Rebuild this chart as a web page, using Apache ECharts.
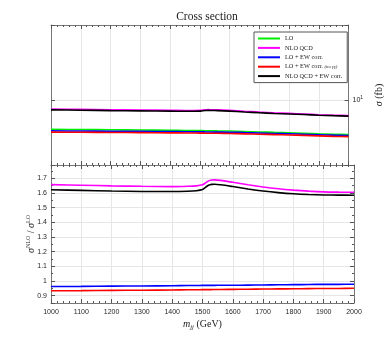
<!DOCTYPE html>
<html><head><meta charset="utf-8">
<script src="https://cdn.jsdelivr.net/npm/echarts@6/dist/echarts.min.js"></script>
<style>html,body{margin:0;padding:0;background:#fff}#c{width:392px;height:343px}</style>
</head><body><div id="c"></div><script>
// m_jj (GeV)
const mjj = [1000,1100,1200,1300,1400,1450,1480,1500,1510,1520,1530,1540,1560,1600,1650,1700,1750,1800,1850,1900,1950,2000];
// Top panel: cross sections (fb)
const xsLO      = [4.86,4.83,4.80,4.77,4.74,4.72,4.71,4.70,4.70,4.69,4.69,4.68,4.67,4.65,4.60,4.55,4.50,4.46,4.41,4.35,4.30,4.26];
const xsNLO     = [8.05,7.98,7.91,7.85,7.79,7.76,7.76,7.78,7.84,7.89,7.92,7.90,7.87,7.77,7.61,7.46,7.33,7.22,7.11,6.99,6.90,6.83];
const xsLOEW    = [4.68,4.65,4.63,4.61,4.59,4.57,4.56,4.56,4.56,4.55,4.55,4.54,4.53,4.52,4.47,4.43,4.38,4.35,4.30,4.25,4.20,4.17];
const xsLOEWnoA = [4.53,4.51,4.49,4.47,4.45,4.44,4.43,4.42,4.42,4.41,4.41,4.41,4.40,4.38,4.34,4.30,4.26,4.22,4.18,4.13,4.08,4.05];
const xsNLOEW   = [7.88,7.81,7.74,7.68,7.63,7.60,7.61,7.63,7.70,7.75,7.78,7.76,7.73,7.64,7.48,7.34,7.21,7.11,7.01,6.90,6.82,6.75];
// Bottom panel: ratios to LO
const rNLO      = [1.656,1.652,1.648,1.645,1.643,1.645,1.648,1.655,1.668,1.682,1.688,1.689,1.685,1.672,1.655,1.640,1.628,1.619,1.612,1.607,1.605,1.604];
const rNLOEW    = [1.621,1.617,1.613,1.610,1.609,1.611,1.615,1.623,1.638,1.652,1.658,1.659,1.655,1.643,1.627,1.613,1.602,1.594,1.589,1.586,1.585,1.584];
const rLOEW     = [0.962,0.963,0.965,0.966,0.968,0.969,0.969,0.970,0.970,0.970,0.970,0.970,0.971,0.971,0.972,0.973,0.974,0.975,0.976,0.977,0.977,0.978];
const rLOEWnoA  = [0.933,0.934,0.936,0.937,0.939,0.940,0.940,0.941,0.941,0.941,0.941,0.942,0.942,0.943,0.944,0.945,0.946,0.947,0.948,0.949,0.949,0.950];
const names = ['LO','NLO QCD','LO + EW corr.','LO + EW corr. (no γγ)','NLO QCD + EW corr.'];
const colors = ['#00ee00','#ff00ff','#0000ff','#ff0000','#000000'];

const pair = arr => mjj.map((m,i)=>[m,arr[i]]);
const AX = '#777';
const SANS = 'Liberation Sans';
const SERIF = 'Liberation Serif';

function xAx(grid, pos, labels, split) {
  return {
    type:'value', gridIndex:grid, position:pos, min:1000, max:2000, interval:100,
    axisLine:{show:true, onZero:false, lineStyle:{color:AX,width:1}},
    axisTick:{show:true, inside:true, length:4, lineStyle:{color:'#555'}},
    minorTick:{show:true, splitNumber:5, length:2, lineStyle:{color:'#555'}},
    axisLabel:{show:labels, fontFamily:SANS, fontSize:7, color:'#262626', margin:6,
      formatter: v => String(v)},
    splitLine:{show:split, lineStyle:{color:'#e6e6e6',width:1}}
  };
}

const option = {
  animation:false,
  backgroundColor:'#fff',
  title:{text:'Cross section', left:202, top:6, textAlign:'center',
    textStyle:{fontFamily:SERIF, fontWeight:'normal', fontSize:11.5, color:'#222'}},
  legend:{
    data:names, orient:'vertical', left:254, top:32, icon:'rect',
    itemWidth:22, itemHeight:2, itemGap:2.4,
    padding:[3,5,3,4], backgroundColor:'#fff', borderColor:'#555', borderWidth:1,
    textStyle:{fontFamily:SERIF, fontSize:6.3, color:'#222', lineHeight:7,
      rich:{s:{fontFamily:SERIF, fontSize:4.8, fontStyle:'italic', color:'#222'}}},
    formatter: n => n === 'LO + EW corr. (no γγ)' ? 'LO + EW corr. {s|(no γγ)}' : n
  },
  grid:[
    {left:51, top:25, width:303, height:140},
    {left:51, top:165, width:303, height:138}
  ],
  xAxis:[
    xAx(0,'bottom',false,true),
    xAx(0,'top',false,false),
    Object.assign(xAx(1,'bottom',true,true), {
      name:'{m|m}{sub|jj} {t|(GeV)}', nameLocation:'middle', nameGap:14,
      nameTextStyle:{fontFamily:SERIF, fontSize:10, color:'#222', lineHeight:14,
        rich:{m:{fontFamily:SERIF, fontStyle:'italic', fontSize:10, lineHeight:14},
              sub:{fontFamily:SERIF, fontStyle:'italic', fontSize:6.5, verticalAlign:'bottom', lineHeight:10},
              t:{fontFamily:SERIF, fontSize:10, lineHeight:14}}}
    }),
    xAx(1,'top',false,false)
  ],
  yAxis:[
    {type:'log', logBase:10, gridIndex:0, position:'left', min:2, max:65,
      axisLine:{show:true, lineStyle:{color:AX}},
      axisTick:{show:true, inside:true, length:4, lineStyle:{color:'#555'}},
      axisLabel:{show:false},
      splitLine:{show:true, lineStyle:{color:'#e6e6e6'}}},
    {type:'log', logBase:10, gridIndex:0, position:'right', min:2, max:65,
      axisLine:{show:true, lineStyle:{color:AX}},
      axisTick:{show:true, inside:true, length:4, lineStyle:{color:'#555'}},
      axisLabel:{show:true, margin:4, fontFamily:SANS, fontSize:7, color:'#262626',
        formatter: v => Math.abs(v-10) < 1e-6 ? '10{p|1}' : '',
        rich:{p:{fontFamily:SANS, fontSize:5, verticalAlign:'top', lineHeight:10}}},
      splitLine:{show:false},
      name:'{s|σ} (fb)', nameLocation:'middle', nameGap:18, nameRotate:90,
      nameTextStyle:{fontFamily:SERIF, fontSize:10, color:'#222',
        rich:{s:{fontFamily:SERIF, fontStyle:'italic', fontSize:10}}}},
    {type:'value', gridIndex:1, position:'left', min:0.85, max:1.79,
      splitNumber:9,
      axisLine:{show:true, lineStyle:{color:AX}},
      axisTick:{show:true, inside:true, length:4, lineStyle:{color:'#555'}},
      minorTick:{show:true, splitNumber:2, length:2, lineStyle:{color:'#555'}},
      axisLabel:{show:true, showMinLabel:false, showMaxLabel:false, margin:4,
        fontFamily:SANS, fontSize:7, color:'#262626'},
      splitLine:{show:true, lineStyle:{color:'#e6e6e6'}},
      name:'{s|σ}{p|NLO} / {s|σ}{p|LO}', nameLocation:'middle', nameGap:14, nameRotate:90,
      nameMoveOverlap:false,
      nameTextStyle:{fontFamily:SERIF, fontSize:10, color:'#222', lineHeight:12,
        rich:{s:{fontFamily:SERIF, fontStyle:'italic', fontSize:10, lineHeight:12},
              p:{fontFamily:SERIF, fontSize:6, verticalAlign:'top', lineHeight:8}}}},
    {type:'value', gridIndex:1, position:'right', min:0.85, max:1.79,
      splitNumber:9,
      axisLine:{show:true, lineStyle:{color:AX}},
      axisTick:{show:true, inside:true, length:4, lineStyle:{color:'#555'}},
      minorTick:{show:true, splitNumber:2, length:2, lineStyle:{color:'#555'}},
      axisLabel:{show:false}, splitLine:{show:false}}
  ],
  series:[
    {name:names[0], type:'line', xAxisIndex:0, yAxisIndex:0, data:pair(xsLO)},
    {name:names[1], type:'line', xAxisIndex:0, yAxisIndex:0, data:pair(xsNLO)},
    {name:names[2], type:'line', xAxisIndex:0, yAxisIndex:0, data:pair(xsLOEW)},
    {name:names[3], type:'line', xAxisIndex:0, yAxisIndex:0, data:pair(xsLOEWnoA)},
    {name:names[4], type:'line', xAxisIndex:0, yAxisIndex:0, data:pair(xsNLOEW)},
    {name:names[1], type:'line', xAxisIndex:2, yAxisIndex:2, data:pair(rNLO)},
    {name:names[2], type:'line', xAxisIndex:2, yAxisIndex:2, data:pair(rLOEW)},
    {name:names[3], type:'line', xAxisIndex:2, yAxisIndex:2, data:pair(rLOEWnoA)},
    {name:names[4], type:'line', xAxisIndex:2, yAxisIndex:2, data:pair(rNLOEW)}
  ].map(s => Object.assign(s, {
    showSymbol:false, smooth:0.3, color:colors[names.indexOf(s.name)],
    lineStyle:{width:1.6, color:colors[names.indexOf(s.name)]}
  }))
};
const chart = echarts.init(document.getElementById('c'), null, {renderer:'canvas'});
chart.setOption(option);
</script></body></html>
